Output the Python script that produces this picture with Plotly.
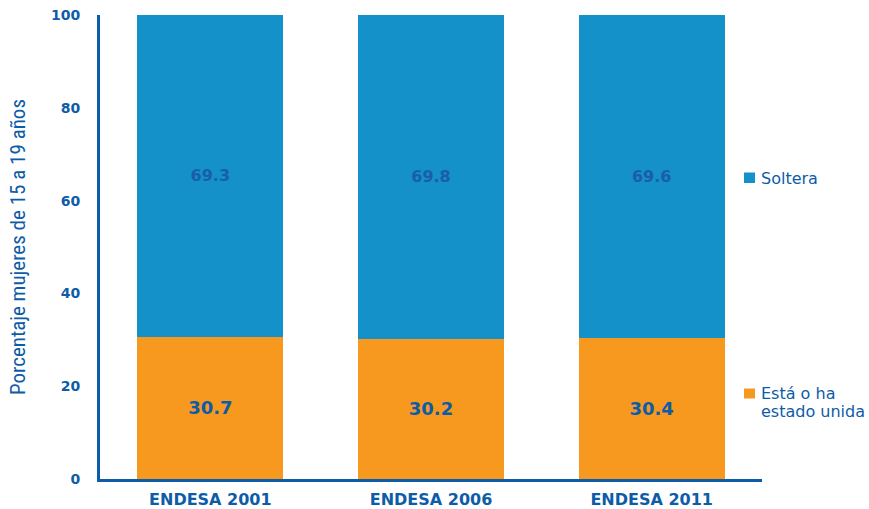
import plotly.graph_objects as go

categories = ["ENDESA 2001", "ENDESA 2006", "ENDESA 2011"]
unida = [30.7, 30.2, 30.4]
soltera = [69.3, 69.8, 69.6]
y_ticks = [0, 20, 40, 60, 80, 100]
legend_soltera = ["Soltera"]
legend_unida = ["Está o ha", "estado unida"]

DARK = "#0D5CA8"
BLUE = "#1591CA"
ORANGE = "#F7981F"
FONT = "DejaVu Sans"

fig = go.Figure()
fig.add_trace(go.Bar(
    x=categories, y=unida, name="Está o ha estado unida",
    marker=dict(color=ORANGE, line=dict(width=0)),
    text=[f"{v:.1f}" for v in unida], textposition="inside",
    insidetextanchor="middle",
    textfont=dict(family=FONT, size=18, color=DARK, weight="bold"),
    hoverinfo="skip",
))
fig.add_trace(go.Bar(
    x=categories, y=soltera, name="Soltera",
    marker=dict(color=BLUE, line=dict(width=0)),
    text=[f"{v:.1f}" for v in soltera], textposition="inside",
    insidetextanchor="middle",
    textfont=dict(family=FONT, size=16, color="#1A5EA8", weight="bold"),
    hoverinfo="skip",
))

# legend keys (plot area: x 100..762 px, y 15..479 px)
def px(xp):
    return (xp - 100) / 662.0

def py(yp):
    return (479 - yp) / 464.0

shapes = [
    dict(type="rect", xref="paper", yref="paper", x0=px(744), x1=px(755),
         y0=py(183), y1=py(172.5), fillcolor=BLUE, line=dict(width=0)),
    dict(type="rect", xref="paper", yref="paper", x0=px(744), x1=px(755),
         y0=py(398.5), y1=py(388.5), fillcolor=ORANGE, line=dict(width=0)),
]
annotations = [
    dict(text=legend_soltera[0], xref="paper", yref="paper", x=px(759), y=py(178),
         xanchor="left", yanchor="middle", showarrow=False,
         font=dict(family=FONT, size=16, color=DARK)),
    dict(text=legend_unida[0], xref="paper", yref="paper", x=px(759), y=py(393),
         xanchor="left", yanchor="middle", showarrow=False,
         font=dict(family=FONT, size=16, color=DARK)),
    dict(text=legend_unida[1], xref="paper", yref="paper", x=px(759), y=py(411),
         xanchor="left", yanchor="middle", showarrow=False,
         font=dict(family=FONT, size=16, color=DARK)),
]

fig.update_layout(
    barmode="stack",
    bargap=0.338,
    width=869, height=509,
    margin=dict(l=100, r=107, t=15, b=30),
    plot_bgcolor="white", paper_bgcolor="white",
    font=dict(family=FONT, color=DARK),
    showlegend=False,
    shapes=shapes,
    annotations=annotations,
)
fig.update_xaxes(
    range=[-0.5, 2.5], showline=True, linecolor=DARK, linewidth=3,
    ticks="", showgrid=False, zeroline=False, automargin=False,
    ticklabelstandoff=4,
    tickfont=dict(family=FONT, size=16, color=DARK, weight="bold"),
)
fig.update_yaxes(
    range=[0, 100], tickvals=y_ticks, showline=True, linecolor=DARK, linewidth=3,
    ticks="", showgrid=False, zeroline=False, ticklabelstandoff=14, automargin=False,
    ticklabeloverflow="allow",
    tickfont=dict(family=FONT, size=14, color=DARK, weight="bold"),
    title=dict(text="Porcentaje mujeres de 15 a 19 años", standoff=20,
               font=dict(family="Liberation Sans Narrow, Roboto Condensed, Roboto, sans-serif", size=21, color=DARK)),
)

fig.write_html("out.html", config={"displayModeBar": False},
               post_script="document.body.style.margin='0px';document.body.style.overflow='hidden';")
